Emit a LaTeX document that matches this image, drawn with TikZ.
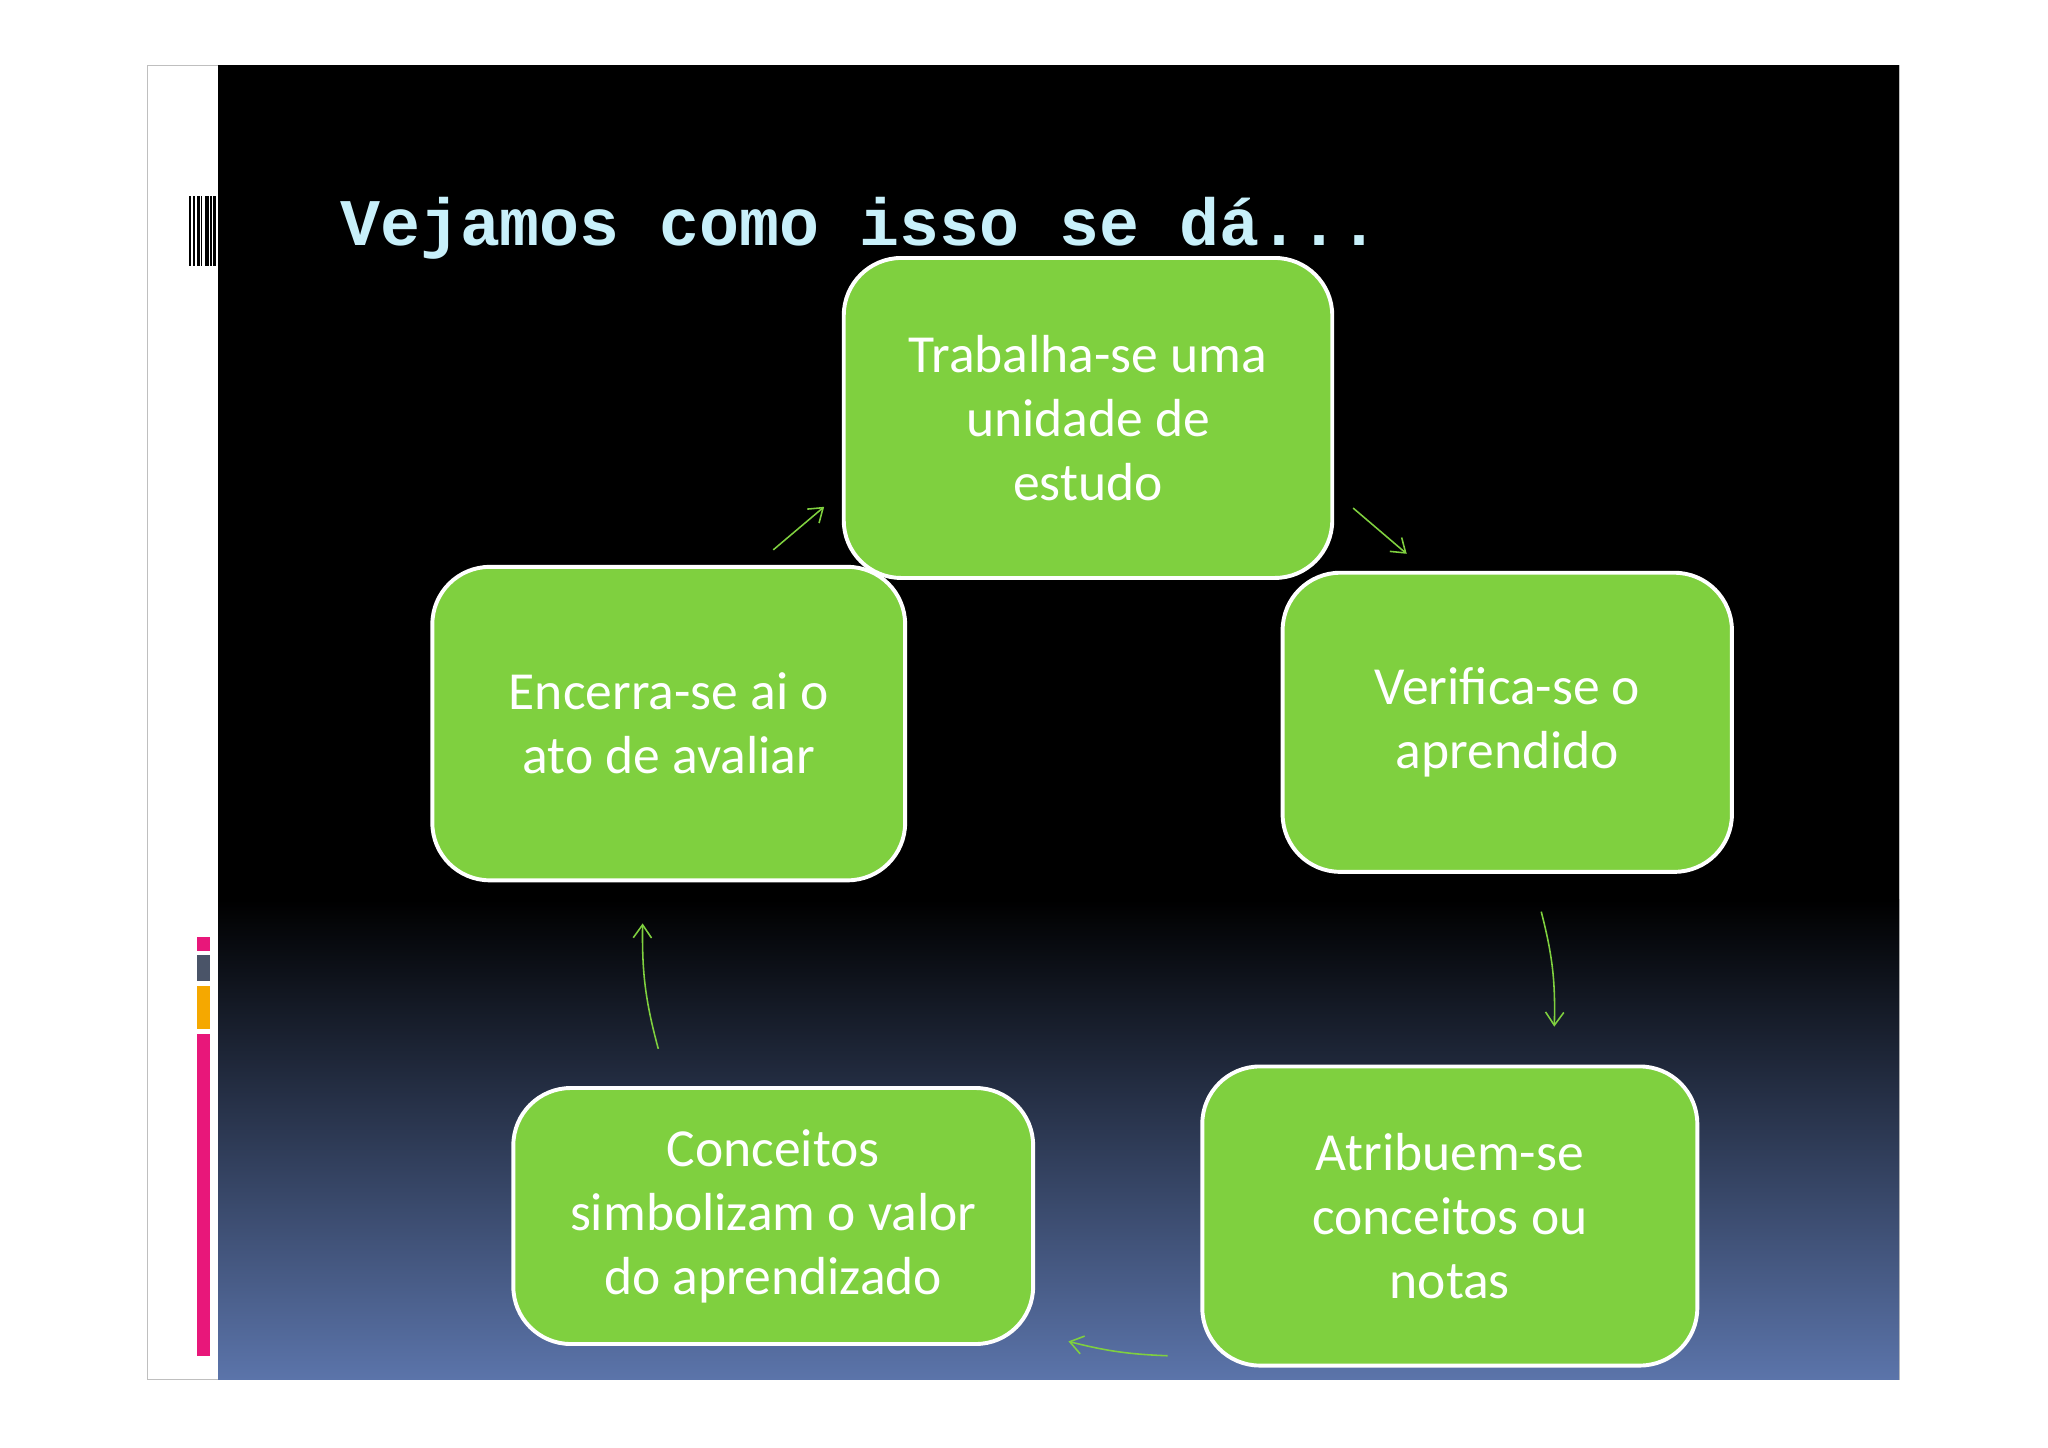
\documentclass[tikz,border=0pt]{standalone}
\usepackage{fontspec}
\setmainfont{Carlito}
\newfontfamily\titlefont{Liberation Mono}
\usetikzlibrary{arrows.meta}
\definecolor{gr}{HTML}{7FD03F}
\definecolor{ttl}{HTML}{C8F0FA}
\definecolor{bl}{HTML}{5B74AA}
\definecolor{pk}{HTML}{E8177A}
\definecolor{og}{HTML}{F5A800}
\definecolor{gy}{HTML}{4A5468}
\begin{document}
\begin{tikzpicture}[x=0.5pt,y=-0.5pt,
  box/.style={draw=white,line width=1.5pt,fill=gr,rounded corners=22pt,text=white,align=center,font=\fontsize{20.5}{24.5}\selectfont,inner sep=0pt},
  arr/.style={draw=gr,line width=0.6pt,-{Straight Barb[length=5pt,width=7pt]}}]
\useasboundingbox (0,0) rectangle (1568,1108);
\fill[white] (0,0) rectangle (1568,1108);
\draw[gray!50,line width=0.5pt] (113,50) rectangle (1454,1056);
\fill[black] (167,50) rectangle (1454,690);
\shade[top color=black,bottom color=bl] (167,689) rectangle (1454,1056);
% barcode
\foreach \x/\w in {145/1.5,148/1,151/2,154/1,157/3,161/1,163/2}{\fill[black] (\x,150) rectangle (\x+\w,204);}
\fill[pk] (151,717) rectangle (161,728);
\fill[gy] (151,731) rectangle (161,751);
\fill[og] (151,755) rectangle (161,788);
\fill[pk] (151,792) rectangle (161,1038);
\node[anchor=base west,text=ttl,font=\titlefont\bfseries\fontsize{25.5}{30}\selectfont,inner sep=0pt] (title) at (260,188) {Vejamos como isso se dá...};
\node[box,minimum width=181pt,minimum height=120pt] (e) at (512,554) {Encerra-se ai o\\ato de avaliar};
\node[box,minimum width=187pt,minimum height=122.5pt] (t) at (833,320) {Trabalha-se uma\\unidade de\\estudo};
\node[box,minimum width=172pt,minimum height=114.5pt] (v) at (1154,553) {Verifica-se o\\aprendido};
\node[box,minimum width=189.5pt,minimum height=114.5pt] (a) at (1110,931) {Atribuem-se\\conceitos ou\\notas};
\node[box,minimum width=199pt,minimum height=98pt] (c) at (592,931) {Conceitos\\simbolizam o valor\\do aprendizado};
\coordinate (a1s) at (592,421); \coordinate (a1e) at (631,388);
\coordinate (a2s) at (1036,389); \coordinate (a2e) at (1077,424);
\coordinate (a3s) at (1180,698); \coordinate (a3e) at (1190,786);
\coordinate (a4s) at (894,1038); \coordinate (a4e) at (818,1027);
\coordinate (a5s) at (504,803); \coordinate (a5e) at (492,707);
\draw[arr] (a1s) -- (a1e);
\draw[arr] (a2s) -- (a2e);
\draw[arr] (a3s) to[bend left=8] (a3e);
\draw[arr] (a4s) to[bend left=6] (a4e);
\draw[arr] (a5s) to[bend left=8] (a5e);
\end{tikzpicture}
\end{document}
